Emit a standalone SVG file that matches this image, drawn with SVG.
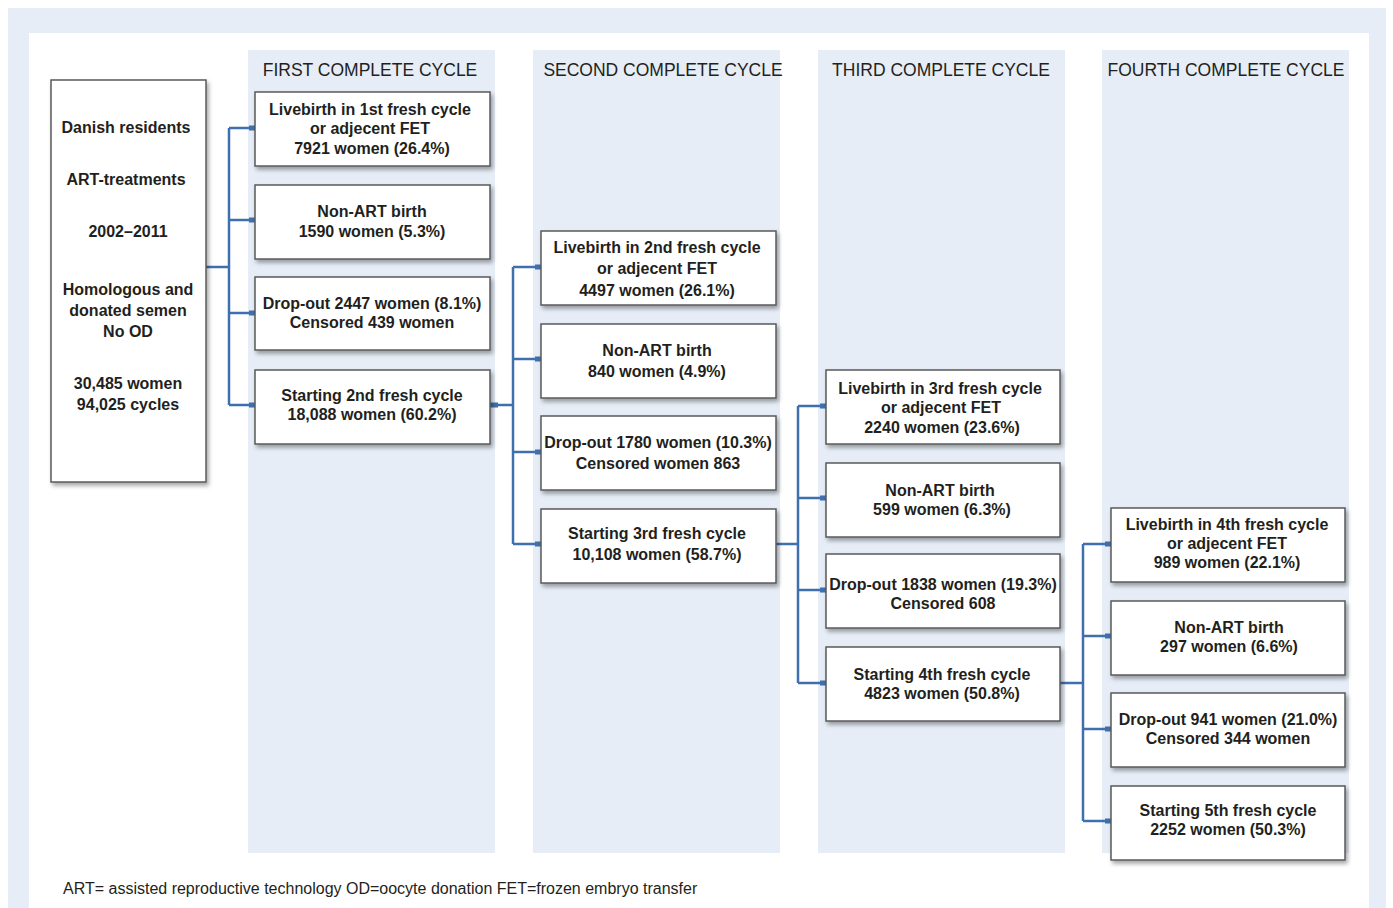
<svg xmlns="http://www.w3.org/2000/svg" width="1393" height="908" viewBox="0 0 1393 908">
<defs>
<filter id="sh" x="-10%" y="-10%" width="130%" height="140%">
<feDropShadow dx="2" dy="3" stdDeviation="2" flood-color="#000" flood-opacity="0.35"/>
</filter>
</defs>
<style>
.col{fill:#e6edf6}
.box{fill:#fff;stroke:#5a5a5a;stroke-width:1.5;filter:url(#sh)}
.t{font-family:"Liberation Sans",Arial,sans-serif;font-size:16px;font-weight:bold;fill:#231f20;text-anchor:middle}
.h{font-family:"Liberation Sans",Arial,sans-serif;font-size:17.5px;fill:#231f20;text-anchor:middle}
.fn{font-family:"Liberation Sans",Arial,sans-serif;font-size:16px;fill:#231f20}
.c{fill:none;stroke:#3f6fae;stroke-width:2.5}
.e{fill:#3f6fae}
</style>
<rect x="8" y="8" width="1378" height="900" fill="#e6edf6"/>
<rect x="29" y="33" width="1340" height="875" fill="#fff"/>
<g id="columns">
<rect class="col" x="248" y="50" width="247" height="803"/>
<rect class="col" x="533" y="50" width="247" height="803"/>
<rect class="col" x="818" y="50" width="247" height="803"/>
<rect class="col" x="1102" y="50" width="247" height="803"/>
<text class="h" x="370" y="76">FIRST COMPLETE CYCLE</text>
<text class="h" x="663" y="76">SECOND COMPLETE CYCLE</text>
<text class="h" x="941" y="76">THIRD COMPLETE CYCLE</text>
<text class="h" x="1226" y="76">FOURTH COMPLETE CYCLE</text>
</g>
<g id="connectors">
<path class="c" d="M206 267H229M229 128V405M229 128H255M229 220H255M229 313H255M229 405H255"/>
<path class="c" d="M490 405H513M513 267V544M513 267H541M513 359H541M513 452H541M513 544H541"/>
<path class="c" d="M776 544H798M798 406V683M798 406H826M798 498H826M798 590H826M798 683H826"/>
<path class="c" d="M1060 683H1083M1083 544V821M1083 544H1111M1083 636H1111M1083 729H1111M1083 821H1111"/>
<g class="e">
<rect x="249" y="125.5" width="6" height="5"/><rect x="249" y="217.5" width="6" height="5"/><rect x="249" y="310.5" width="6" height="5"/><rect x="249" y="402.5" width="6" height="5"/>
<rect x="490" y="402.5" width="8" height="5"/>
<rect x="535" y="264.5" width="6" height="5"/><rect x="535" y="356.5" width="6" height="5"/><rect x="535" y="449.5" width="6" height="5"/><rect x="535" y="541.5" width="6" height="5"/>
<rect x="820" y="403.5" width="6" height="5"/><rect x="820" y="495.5" width="6" height="5"/><rect x="820" y="587.5" width="6" height="5"/><rect x="820" y="680.5" width="6" height="5"/>
<rect x="1105" y="541.5" width="6" height="5"/><rect x="1105" y="633.5" width="6" height="5"/><rect x="1105" y="726.5" width="6" height="5"/><rect x="1105" y="818.5" width="6" height="5"/>
</g>
</g>
<g id="start">
<rect class="box" x="51" y="80" width="155" height="402"/>
<text class="t" x="126" y="133">Danish residents</text>
<text class="t" x="126" y="185">ART-treatments</text>
<text class="t" x="128" y="237">2002–2011</text>
<text class="t" x="128" y="295">Homologous and</text>
<text class="t" x="128" y="316">donated semen</text>
<text class="t" x="128" y="337">No OD</text>
<text class="t" x="128" y="389">30,485 women</text>
<text class="t" x="128" y="410">94,025 cycles</text>
</g>
<g id="c1b1"><rect class="box" x="255" y="92" width="235" height="74"/>
<text class="t" x="370" y="115">Livebirth in 1st fresh cycle</text><text class="t" x="370" y="134">or adjecent FET</text><text class="t" x="372" y="154">7921 women (26.4%)</text></g>
<g id="c1b2"><rect class="box" x="255" y="185" width="235" height="74"/>
<text class="t" x="372" y="217">Non-ART birth</text><text class="t" x="372" y="237">1590 women (5.3%)</text></g>
<g id="c1b3"><rect class="box" x="255" y="277" width="235" height="73"/>
<text class="t" x="372" y="309">Drop-out 2447 women (8.1%)</text><text class="t" x="372" y="328">Censored 439 women</text></g>
<g id="c1b4"><rect class="box" x="255" y="370" width="235" height="74"/>
<text class="t" x="372" y="401">Starting 2nd fresh cycle</text><text class="t" x="372" y="420">18,088 women (60.2%)</text></g>

<g id="c2b1"><rect class="box" x="541" y="231" width="235" height="74"/>
<text class="t" x="657" y="253">Livebirth in 2nd fresh cycle</text><text class="t" x="657" y="274">or adjecent FET</text><text class="t" x="657" y="296">4497 women (26.1%)</text></g>
<g id="c2b2"><rect class="box" x="541" y="324" width="235" height="74"/>
<text class="t" x="657" y="356">Non-ART birth</text><text class="t" x="657" y="377">840 women (4.9%)</text></g>
<g id="c2b3"><rect class="box" x="541" y="416" width="235" height="74"/>
<text class="t" x="658" y="448">Drop-out 1780 women (10.3%)</text><text class="t" x="658" y="469">Censored women 863</text></g>
<g id="c2b4"><rect class="box" x="541" y="509" width="235" height="74"/>
<text class="t" x="657" y="539">Starting 3rd fresh cycle</text><text class="t" x="657" y="560">10,108 women (58.7%)</text></g>

<g id="c3b1"><rect class="box" x="826" y="370" width="234" height="74"/>
<text class="t" x="940" y="394">Livebirth in 3rd fresh cycle</text><text class="t" x="941" y="413">or adjecent FET</text><text class="t" x="942" y="433">2240 women (23.6%)</text></g>
<g id="c3b2"><rect class="box" x="826" y="463" width="234" height="74"/>
<text class="t" x="940" y="496">Non-ART birth</text><text class="t" x="942" y="515">599 women (6.3%)</text></g>
<g id="c3b3"><rect class="box" x="826" y="554" width="234" height="74"/>
<text class="t" x="943" y="590">Drop-out 1838 women (19.3%)</text><text class="t" x="943" y="609">Censored 608</text></g>
<g id="c3b4"><rect class="box" x="826" y="647" width="234" height="74"/>
<text class="t" x="942" y="680">Starting 4th fresh cycle</text><text class="t" x="942" y="699">4823 women (50.8%)</text></g>

<g id="c4b1"><rect class="box" x="1111" y="508" width="234" height="74"/>
<text class="t" x="1227" y="530">Livebirth in 4th fresh cycle</text><text class="t" x="1227" y="549">or adjecent FET</text><text class="t" x="1227" y="568">989 women (22.1%)</text></g>
<g id="c4b2"><rect class="box" x="1111" y="601" width="234" height="74"/>
<text class="t" x="1229" y="633">Non-ART birth</text><text class="t" x="1229" y="652">297 women (6.6%)</text></g>
<g id="c4b3"><rect class="box" x="1111" y="693" width="234" height="74"/>
<text class="t" x="1228" y="725">Drop-out 941 women (21.0%)</text><text class="t" x="1228" y="744">Censored 344 women</text></g>
<g id="c4b4"><rect class="box" x="1111" y="786" width="234" height="74"/>
<text class="t" x="1228" y="816">Starting 5th fresh cycle</text><text class="t" x="1228" y="835">2252 women (50.3%)</text></g>

<text class="fn" x="63" y="894">ART= assisted reproductive technology OD=oocyte donation FET=frozen embryo transfer</text>
</svg>
